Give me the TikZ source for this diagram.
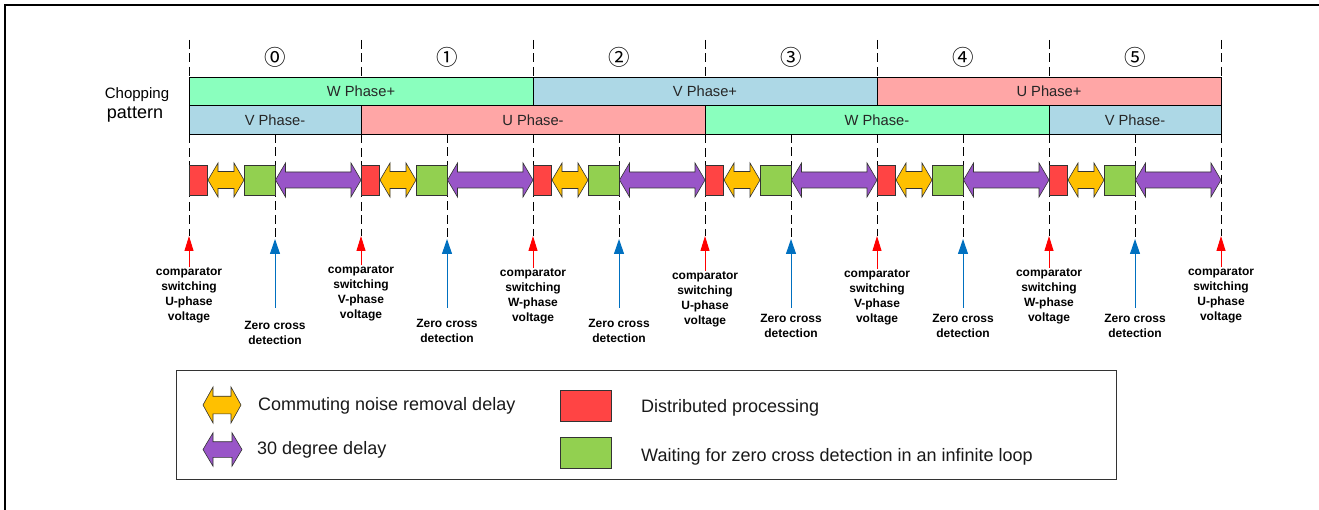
\documentclass[tikz,border=0pt]{standalone}
\usepackage{fontspec}
\setmainfont{Liberation Sans}
\newfontfamily\circfont{Noto Sans CJK JP}
\usetikzlibrary{arrows.meta}

\definecolor{wph}{HTML}{8AFFBE}
\definecolor{vph}{HTML}{ADD8E6}
\definecolor{uph}{HTML}{FFA6A6}
\definecolor{procred}{HTML}{FF4444}
\definecolor{waitgreen}{HTML}{92D050}
\definecolor{noiseorange}{HTML}{FFC000}
\definecolor{delaypurple}{HTML}{9955C8}
\definecolor{zcblue}{HTML}{0070C0}

% horizontal double-headed block arrow:
% #1 left x, #2 right x, #3 centre y, #4 head half-height, #5 shaft half-height, #6 fill
\newcommand\bidirshape[6]{%
  \draw[blockedge, fill=#6] (#1,#3) -- ({#1+10},{#3-#4}) -- ({#1+10},{#3-#5})
    -- ({#2-10},{#3-#5}) -- ({#2-10},{#3-#4}) -- (#2,#3) -- ({#2-10},{#3+#4})
    -- ({#2-10},{#3+#5}) -- ({#1+10},{#3+#5}) -- ({#1+10},{#3+#4}) -- cycle;}

\begin{document}
\begin{tikzpicture}[x=1pt,y=-1pt,
  phasebar/.style={draw=black, line width=0.9pt, inner sep=0pt, outer sep=0pt,
    anchor=north west, minimum height=28.5pt, text=black!85,
    font=\fontsize{14.7}{17}\selectfont},
  guide/.style={dash pattern=on 9pt off 4.5pt, line width=0.8pt},
  blockedge/.style={draw=black!80, line width=0.6pt},
  block/.style={blockedge, anchor=north west, inner sep=0pt, outer sep=0pt,
    minimum height=30.5pt},
  cmplabel/.style={anchor=north, align=center, inner sep=0pt,
    font=\bfseries\fontsize{12}{15}\selectfont},
  redup/.style={draw=red, line width=1pt, -{Triangle[width=9pt,length=15pt]}},
  blueup/.style={draw=zcblue, line width=1pt, -{Triangle[width=10pt,length=15pt]}},
  legendtext/.style={anchor=base west, inner sep=0pt,
    font=\fontsize{18}{21}\selectfont, text=black!90},
]
\useasboundingbox (0,0) rectangle (1319,510);

% outer frame (top and left edges)
\draw[line width=2pt] (5,510) -- (5,5) -- (1319,5);

% dashed guide lines at the sector boundaries and the zero-cross points
\foreach \i in {0,...,6} {
  \pgfmathsetmacro\X{189+172*\i}
  \coordinate (gtop\i) at (\X,40);
  \coordinate (gbot\i) at (\X,236);
  \draw[guide] (gtop\i) -- (gbot\i);
}
\foreach \i in {0,...,5} {
  \pgfmathsetmacro\X{189+172*\i+86}
  \coordinate (ztop\i) at (\X,134);
  \coordinate (zbot\i) at (\X,239);
  \draw[guide] (ztop\i) -- (zbot\i);
}

% sector numbers
\foreach \i/\c in {0/⓪,1/①,2/②,3/③,4/④,5/⑤} {
  \pgfmathsetmacro\X{189+172*\i+86}
  \node[font=\circfont\fontsize{21.5}{24}\selectfont, inner sep=0pt] (sec\i) at (\X,57) {\c};
}

% chopping pattern
\node[font=\fontsize{15}{17}\selectfont, inner sep=0pt] (chop) at (137,95) {Chopping};
\node[font=\fontsize{18}{20}\selectfont, inner sep=0pt] (patt) at (135,115) {pattern};

\node[phasebar, fill=wph, minimum width=344pt] (wplus) at (189,77) {W Phase+};
\node[phasebar, fill=vph, minimum width=344pt] (vplus) at (533,77) {V Phase+};
\node[phasebar, fill=uph, minimum width=344pt] (uplus) at (877,77) {U Phase+};
\node[phasebar, fill=vph, minimum width=172pt] (vminA) at (189,105.5) {V Phase-};
\node[phasebar, fill=uph, minimum width=344pt] (umin) at (361,105.5) {U Phase-};
\node[phasebar, fill=wph, minimum width=344pt] (wmin) at (705,105.5) {W Phase-};
\node[phasebar, fill=vph, minimum width=172pt] (vminB) at (1049,105.5) {V Phase-};

% processing sequence in each sector
\foreach \i in {0,...,5} {
  \pgfmathsetmacro\X{189+172*\i}
  \node[block, fill=procred, minimum width=18.7pt] (proc\i) at (\X,165) {};
  \bidirshape{\X+19}{\X+55}{180}{17}{8.5}{noiseorange}
  \node[block, fill=waitgreen, minimum width=31.5pt] (wait\i) at (\X+55,165) {};
  \bidirshape{\X+86.5}{\X+172}{180}{17}{8}{delaypurple}
}

% comparator switching markers
\foreach \i/\p/\yy in {0/U/267.5,1/V/265.5,2/W/268,3/U/271,4/V/269,5/W/268,6/U/267} {
  \pgfmathsetmacro\X{189+172*\i}
  \node[cmplabel] (cmp\i) at (\X,\yy) {comparator\\switching\\\p-phase\\voltage};
  \draw[redup] (cmp\i.north) -- (gbot\i);
}

% zero cross markers
\foreach \i/\yy in {0/321.5,1/319.5,2/319.5,3/314.5,4/314.5,5/314.5} {
  \pgfmathsetmacro\X{189+172*\i+86}
  \coordinate (ztail\i) at (\X,308);
  \node[cmplabel] (zc\i) at (\X,\yy) {Zero cross\\detection};
  \draw[blueup] (ztail\i) -- (zbot\i);
}

% legend
\node[draw=black!80, line width=1pt, anchor=north west, inner sep=0pt,
  minimum width=940pt, minimum height=109pt] (legend) at (176,370) {};
\bidirshape{203}{241}{405}{18}{8.8}{noiseorange}
\node[legendtext] (lnoise) at (258,410) {Commuting noise removal delay};
\bidirshape{203}{242}{449.5}{16.7}{7.8}{delaypurple}
\node[legendtext] (ldelay) at (257,454.5) {30 degree delay};
\node[block, fill=procred, minimum width=51pt, minimum height=31pt] (lproc) at (560,390) {};
\node[legendtext] (lproctext) at (641,412) {Distributed processing};
\node[block, fill=waitgreen, minimum width=51pt, minimum height=30.5pt] (lwait) at (560,437.5) {};
\node[legendtext] (lwaittext) at (641,461) {Waiting for zero cross detection in an infinite loop};
\end{tikzpicture}
\end{document}
